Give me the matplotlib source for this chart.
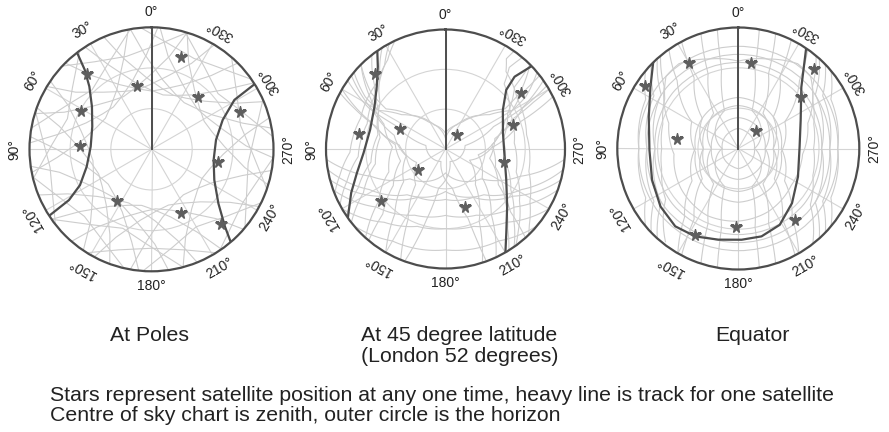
import matplotlib.pyplot as plt
import numpy as np

plt.rcParams['font.family'] = ['Liberation Sans', 'DejaVu Sans']

W, H = 889, 432

# All positions are (azimuth deg, elevation deg); azimuth runs anticlockwise from top.

# --- At Poles ---
POLE_STAR_AZ = [342.3, 12.5, 318.3, 293.0, 40.6, 61.1, 87.3, 258.9, 146.5, 204.8, 223.1]
POLE_STAR_EL = [18.5, 42.0, 38.8, 18.7, 16.6, 30.8, 37.2, 40.2, 44.4, 38.4, 15.0]
POLE_HEAVY = [
    [(37.6, 0), (40.0, 13.3), (44.7, 24.8), (54.3, 35.9), (69.0, 43.2), (87.5, 45.1),
     (105.0, 40.5), (116.6, 31.0), (121.6, 18.5), (123.0, 0)],
    [(302.3, 0), (300.8, 18.8), (292.4, 33.2), (278.3, 41.9), (260.2, 43.5),
     (243.9, 38.4), (231.0, 26.5), (223.5, 11.2), (220.5, 0)],
]
POLE_TRACKS = [
    [(315, 0), (321, 20), (334, 37), (348, 44.5), (0, 47), (12, 44.5), (26, 37), (39, 20), (45, 0)],
    [(329, 0), (335, 20), (348, 35), (2, 42.5), (14, 45), (26, 42.5), (40, 35), (53, 20), (59, 0)],
    [(343, 0), (349, 20), (2, 36), (16, 43.5), (28, 46), (40, 43.5), (54, 36), (67, 20), (73, 0)],
    [(357, 0), (3, 20), (16, 38), (30, 45.5), (42, 48), (54, 45.5), (68, 38), (81, 20), (87, 0)],
    [(11, 0), (17, 20), (30, 39), (44, 46.5), (56, 49), (68, 46.5), (82, 39), (95, 20), (101, 0)],
    [(56, 0), (62, 20), (75, 36), (89, 43.5), (101, 46), (113, 43.5), (127, 36), (140, 20), (146, 0)],
    [(70, 0), (76, 20), (89, 37), (103, 44.5), (115, 47), (127, 44.5), (141, 37), (154, 20), (160, 0)],
    [(84, 0), (90, 20), (103, 39), (117, 46.5), (129, 49), (141, 46.5), (155, 39), (168, 20), (174, 0)],
    [(98, 0), (104, 20), (117, 35), (131, 42.5), (143, 45), (155, 42.5), (169, 35), (182, 20), (188, 0)],
    [(112, 0), (118, 20), (131, 37), (145, 44.5), (157, 47), (169, 44.5), (183, 37), (196, 20), (202, 0)],
    [(125, 0), (131, 20), (144, 38), (158, 45.5), (170, 48), (182, 45.5), (196, 38), (209, 20), (215, 0)],
    [(139, 0), (145, 20), (158, 36), (172, 43.5), (184, 46), (196, 43.5), (210, 36), (223, 20), (229, 0)],
    [(152, 0), (158, 20), (171, 37), (185, 44.5), (197, 47), (209, 44.5), (223, 37), (236, 20), (242, 0)],
    [(170, 0), (176, 20), (189, 39), (203, 46.5), (215, 49), (227, 46.5), (241, 39), (254, 20), (260, 0)],
    [(195, 0), (201, 20), (214, 37), (228, 44.5), (240, 47), (252, 44.5), (266, 37), (279, 20), (285, 0)],
    [(253, 0), (259, 20), (272, 36), (286, 43.5), (298, 46), (310, 43.5), (324, 36), (337, 20), (343, 0)],
    [(266, 0), (272, 20), (285, 35), (299, 42.5), (311, 45), (323, 42.5), (337, 35), (350, 20), (356, 0)],
    [(280, 0), (286, 20), (299, 38), (313, 45.5), (325, 48), (337, 45.5), (351, 38), (4, 20), (10, 0)],
    [(293, 0), (299, 20), (312, 37), (326, 44.5), (338, 47), (350, 44.5), (4, 37), (17, 20), (23, 0)],
    [(303, 0), (309, 20), (322, 39), (336, 46.5), (348, 49), (0, 46.5), (14, 39), (27, 20), (33, 0)],
    [(343, 0), (357, 13), (15, 19), (33, 13), (47, 0)],
    [(10, 0), (28, 20), (45, 28), (62, 20), (80, 0)],
    [(36, 0), (52, 16), (70, 24), (88, 16), (104, 0)],
    [(72, 0), (86, 10), (100, 14), (114, 10), (128, 0)],
    [(103, 0), (117, 13), (135, 20), (153, 13), (167, 0)],
    [(125, 0), (143, 20), (160, 28), (177, 20), (195, 0)],
    [(148, 0), (162, 12), (180, 17), (198, 12), (212, 0)],
    [(176, 0), (192, 16), (210, 24), (228, 16), (244, 0)],
    [(214, 0), (228, 9), (240, 12), (252, 9), (266, 0)],
    [(230, 0), (244, 12), (262, 18), (280, 12), (294, 0)],
    [(251, 0), (267, 15), (285, 22), (303, 15), (319, 0)],
    [(276, 0), (293, 18), (310, 26), (327, 18), (344, 0)],
    [(305, 0), (319, 11), (335, 16), (351, 11), (5, 0)],
]

# --- At 45 degree latitude ---
MID_STAR_AZ = [43.2, 80.0, 66.3, 320.0, 306.6, 289.8, 257.2, 128.0, 129.0, 198.4]
MID_STAR_EL = [12.5, 23.5, 52.6, 76.0, 19.6, 36.0, 44.9, 64.0, 27.6, 44.1]
MID_HEAVY = [
    [(34.8, 0), (39.4, 9.7), (47.8, 20.1), (59.1, 27.7), (75.7, 31.4), (92.8, 28.2),
     (105.1, 20.9), (114.9, 11.7), (125.2, 0)],
    [(313.9, 0), (316.3, 14.7), (314.2, 26.2), (304.3, 37.7), (285.5, 45.1), (263.0, 45.2),
     (243.3, 38.8), (227.2, 26.7), (216.0, 12.1), (210.1, 0)],
]
MID_TRACKS = [
    [(50, 0), (57, 18), (60, 32), (52, 48), (32, 66), (0, 82), (328, 66), (308, 48),
     (300, 32), (303, 18), (310, 0)],
    [(45, 0), (53, 20), (56, 36), (45, 54), (25, 70), (0, 78), (335, 70), (315, 54),
     (304, 36), (307, 20), (315, 0)],
    [(38, 0), (48, 18), (60, 32), (80, 40), (102, 36), (118, 20), (128, 0)],
    [(45, 0), (56, 22), (68, 40), (88, 50), (112, 44), (128, 26), (138, 0)],
    [(52, 0), (62, 28), (75, 50), (100, 60), (128, 50), (142, 28), (150, 0)],
    [(28, 0), (36, 12), (48, 22), (72, 28), (95, 24), (108, 12), (118, 0)],
    [(32, 0), (42, 16), (55, 30), (78, 38), (100, 33), (114, 18), (124, 0)],
    [(25, 0), (33, 10), (45, 18), (70, 22), (92, 18), (104, 8), (112, 0)],
    [(60, 0), (70, 30), (85, 55), (115, 66), (140, 55), (152, 30), (158, 0)],
    [(308, 0), (306, 20), (296, 40), (275, 55), (250, 50), (230, 32), (218, 14), (212, 0)],
    [(302, 0), (298, 24), (285, 48), (260, 65), (232, 55), (215, 30), (205, 0)],
    [(320, 0), (322, 12), (318, 24), (300, 34), (275, 38), (252, 34), (235, 22),
     (222, 8), (216, 0)],
    [(315, 0), (312, 20), (300, 36), (280, 46), (258, 44), (238, 32), (224, 16), (215, 0)],
    [(325, 0), (326, 8), (322, 16), (305, 24), (280, 28), (255, 25), (238, 15),
     (228, 5), (224, 0)],
    [(296, 0), (290, 30), (272, 55), (245, 70), (220, 55), (205, 30), (198, 0)],
    [(100, 0), (118, 25), (140, 45), (180, 58), (220, 45), (242, 25), (260, 0)],
    [(110, 0), (130, 22), (155, 35), (180, 40), (205, 35), (230, 22), (250, 0)],
    [(95, 0), (110, 30), (130, 55), (180, 72), (230, 55), (250, 30), (265, 0)],
    [(120, 0), (140, 18), (160, 28), (180, 30), (200, 28), (220, 18), (240, 0)],
    [(105, 0), (125, 28), (150, 48), (180, 52), (210, 48), (235, 28), (255, 0)],
    [(130, 0), (150, 10), (180, 14), (210, 10), (230, 0)],
    [(55, 0), (62, 25), (65, 50), (80, 75), (160, 80), (190, 60), (198, 35), (200, 0)],
    [(305, 0), (298, 25), (295, 50), (280, 75), (200, 80), (170, 60), (165, 35), (160, 0)],
    [(140, 0), (136, 22), (125, 42), (105, 55), (85, 52), (72, 35), (66, 15), (62, 0)],
    [(222, 0), (226, 22), (236, 42), (258, 56), (282, 52), (294, 35), (298, 15), (300, 0)],
]

# --- Equator ---
EQ_STAR_AZ = [29.7, 351.7, 316.5, 56.4, 309.5, 80.8, 314.0, 178.1, 153.1, 218.3]
EQ_STAR_EL = [16.4, 25.4, 8.4, 6.6, 29.9, 43.8, 71.2, 31.5, 18.1, 22.4]
EQ_HEAVY = [
    [(44.7, 0), (55.1, 10.3), (70.6, 19.4), (91.1, 23.9), (110.1, 21.7), (126.7, 17.8),
     (141.0, 15.5), (153.9, 17.2), (167.7, 20.6), (182.1, 22.1), (194.8, 22.4),
     (208.5, 25.4), (224.5, 33.0), (244.7, 40.9), (271.5, 44.4), (294.3, 39.1),
     (314.2, 24.6), (325.9, 0)],
]
EQ_TRACKS = [
    [(142, 2), (125, 24), (105, 31), (90, 33), (72, 31), (56, 24), (45, 14), (35, 13),
     (18, 20), (0, 25), (342, 20), (325, 13), (315, 14), (303, 24), (288, 31),
     (270, 34), (250, 31), (232, 22), (218, 0)],
    [(40, 0), (50, 18), (70, 35), (95, 42), (125, 38), (155, 35), (180, 36), (205, 38),
     (235, 42), (265, 42), (290, 35), (310, 18), (320, 0)],
    [(35, 0), (42, 22), (60, 50), (95, 58), (140, 52), (180, 50), (220, 52), (265, 58),
     (300, 50), (318, 22), (325, 0)],
    [(18, 0), (22, 30), (35, 58), (90, 70), (150, 68), (180, 67), (210, 68), (270, 70),
     (325, 58), (338, 30), (342, 0)],
    [(10, 0), (12, 30), (20, 60), (90, 78), (160, 76), (180, 75), (200, 76), (270, 78),
     (340, 60), (348, 30), (350, 0)],
    [(150, 0), (142, 25), (125, 48), (90, 58), (50, 55), (0, 52), (310, 55), (270, 58),
     (235, 48), (218, 25), (210, 0)],
    [(162, 0), (158, 30), (145, 58), (90, 70), (30, 68), (0, 67), (330, 68), (270, 70),
     (215, 58), (202, 30), (198, 0)],
    [(170, 0), (168, 30), (160, 60), (90, 78), (20, 76), (0, 75), (340, 76), (270, 78),
     (200, 60), (192, 30), (190, 0)],
    [(50, 0), (62, 12), (90, 16), (130, 14), (180, 14), (230, 14), (270, 16), (298, 12),
     (310, 0)],
    [(130, 0), (118, 12), (90, 16), (50, 14), (0, 14), (310, 14), (270, 16), (242, 12),
     (230, 0)],
    [(42, 0), (55, 20), (90, 28), (130, 26), (180, 26), (230, 26), (270, 28), (305, 20),
     (318, 0)],
    [(138, 0), (125, 20), (90, 28), (50, 26), (0, 26), (310, 26), (270, 28), (235, 20),
     (222, 0)],
    [(46, 0), (58, 16), (90, 22), (130, 20), (180, 20), (230, 20), (270, 22), (302, 16),
     (314, 0)],
    [(134, 0), (122, 16), (90, 22), (50, 20), (0, 20), (310, 20), (270, 22), (238, 16),
     (226, 0)],
    [(28, 0), (32, 28), (50, 55), (90, 64), (135, 60), (180, 58), (225, 60), (270, 64),
     (312, 55), (330, 28), (334, 0)],
    [(152, 0), (148, 28), (130, 55), (90, 64), (45, 60), (0, 58), (315, 60), (270, 64),
     (230, 55), (212, 28), (208, 0)],
]

TITLES = ["At Poles", "At 45 degree latitude", "Equator"]
SUBTITLE = "(London 52 degrees)"
NOTE_1 = "Stars represent satellite position at any one time, heavy line is track for one satellite"
NOTE_2 = "Centre of sky chart is zenith, outer circle is the horizon"
AZ_LABELS = list(range(0, 360, 30))

GRID = "#d4d4d4"
FAINT = "#cdcdcd"
DARK = "#4d4d4d"
STAR = "#5e5e5e"
TXT = "#222222"


def track(ax, pts, follow=False, **kw):
    az, el = np.array(pts, dtype=float).T
    line, = ax.plot(np.unwrap(np.deg2rad(az)), 90 - el, **kw)
    if follow:
        # follow the track in (azimuth, elevation) rather than straight chords
        line.get_path()._interpolation_steps = 16
    return line


def sky_chart(cx, cy, R, tracks, heavy, star_az, star_el, follow):
    ax = fig.add_axes([(cx - R) / W, 1 - (cy + R) / H, 2 * R / W, 2 * R / H],
                      projection="polar")
    ax.set_theta_zero_location("N")
    ax.set_theta_direction(1)
    ax.set_yticks([30, 60])
    ax.set_yticklabels([])
    ax.set_xticks(np.deg2rad(AZ_LABELS))
    ax.set_xticklabels([])
    ax.grid(color=GRID, lw=0.8)
    ax.spines["polar"].set_color(DARK)
    ax.spines["polar"].set_linewidth(1.6)
    ax.tick_params(length=0)

    for tr in tracks:
        track(ax, tr, follow, color=FAINT, lw=0.8, zorder=2)

    # north meridian drawn heavy
    ax.plot([0, 0], [0, 90], color=DARK, lw=1.4, zorder=3)

    for tr in heavy:
        track(ax, tr, color=DARK, lw=1.6, zorder=4)

    ax.plot(np.deg2rad(star_az), 90 - np.array(star_el), ls="none", marker="*",
            ms=8.5, color=STAR, mec=STAR, zorder=5)

    for a in AZ_LABELS:
        ax.text(np.deg2rad(a), 101, f"{a}°", rotation=a % 180, rotation_mode="anchor",
                ha="center", va="center", fontsize=10, color=TXT)
    ax.set_xlim(0, 2 * np.pi)
    ax.set_ylim(0, 90)
    return ax


fig = plt.figure(figsize=(W / 100, H / 100), dpi=100)

sky_chart(151.5, 149.3, 122, POLE_TRACKS, POLE_HEAVY, POLE_STAR_AZ, POLE_STAR_EL, False)
sky_chart(445.5, 149.0, 119.5, MID_TRACKS, MID_HEAVY, MID_STAR_AZ, MID_STAR_EL, True)
sky_chart(738.3, 148.5, 121, EQ_TRACKS, EQ_HEAVY, EQ_STAR_AZ, EQ_STAR_EL, True)

fs = 15.35
fig.text(150 / W, 1 - 341 / H, TITLES[0], ha="center", va="baseline", fontsize=fs, color=TXT)
fig.text(459.5 / W, 1 - 341 / H, TITLES[1], ha="center", va="baseline", fontsize=fs, color=TXT)
fig.text(459.5 / W, 1 - 361.5 / H, SUBTITLE, ha="center", va="baseline", fontsize=fs, color=TXT)
fig.text(752.5 / W, 1 - 341 / H, TITLES[2], ha="center", va="baseline", fontsize=fs, color=TXT)
fig.text(50.5 / W, 1 - 401 / H, NOTE_1, ha="left", va="baseline", fontsize=fs, color=TXT)
fig.text(50.5 / W, 1 - 421 / H, NOTE_2, ha="left", va="baseline", fontsize=fs, color=TXT)

fig.savefig("out.png", dpi=100, facecolor="white")
